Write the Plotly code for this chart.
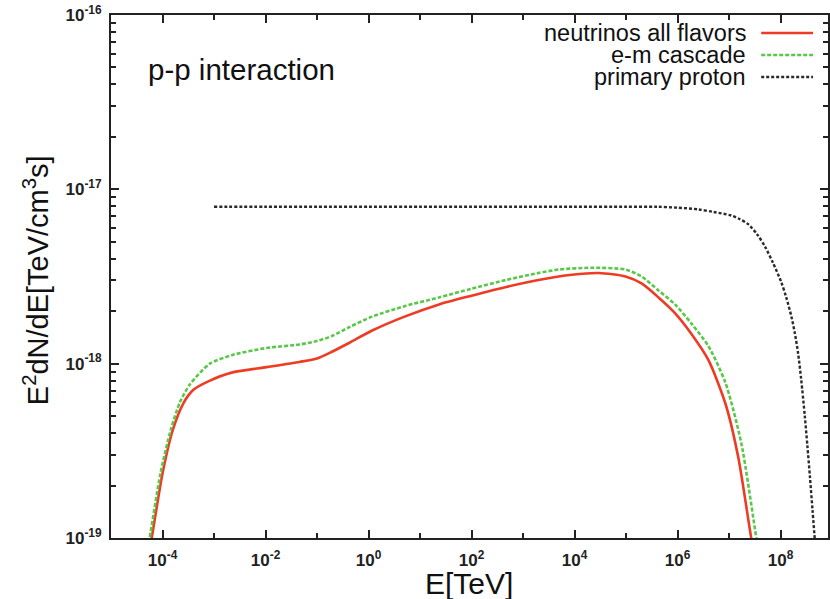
import plotly.graph_objects as go

# ---- data: log10(E / TeV) and log10(E^2 dN/dE / (TeV cm^-3 s^-1)) ----
nu_logE = [-4.25, -4.21, -4.00, -3.80, -3.60, -3.40, -3.10, -2.64, -1.98, -1.34, -1.00, -0.70,
           -0.37, 0.07, 0.70, 1.37, 2.00, 2.67, 3.30, 3.95, 4.47, 4.99, 5.30, 5.63, 5.95, 6.27,
           6.60, 6.93, 7.18, 7.43, 7.47]
nu_logF = [-19.06, -19.00, -18.63, -18.38, -18.23, -18.15, -18.10, -18.05, -18.02, -17.99, -17.97, -17.93,
           -17.88, -17.81, -17.73, -17.66, -17.61, -17.56, -17.52, -17.49, -17.48, -17.50, -17.54, -17.62,
           -17.71, -17.83, -17.98, -18.23, -18.54, -19.00, -19.06]

em_logE = [-4.29, -4.25, -4.04, -3.84, -3.66, -3.47, -3.08, -2.64, -1.98, -1.34, -1.00, -0.70,
           -0.37, 0.07, 0.70, 1.37, 2.00, 2.67, 3.30, 3.69, 4.33, 4.99, 5.30, 5.63, 5.95, 6.27,
           6.60, 6.93, 7.24, 7.53, 7.57]
em_logF = [-19.06, -19.00, -18.63, -18.38, -18.22, -18.12, -18.00, -17.95, -17.91, -17.89, -17.87, -17.84,
           -17.79, -17.73, -17.67, -17.62, -17.57, -17.52, -17.48, -17.46, -17.45, -17.46, -17.50, -17.58,
           -17.66, -17.77, -17.90, -18.11, -18.46, -19.00, -19.06]

pp_logE = [-3.0, -2.0, -1.0, 0.0, 1.0, 2.0, 3.0, 4.0, 5.0, 5.6, 6.0, 6.40, 6.70, 7.04, 7.20, 7.37,
           7.55, 7.70, 7.85, 8.01, 8.11, 8.21, 8.28, 8.34, 8.40, 8.47, 8.52, 8.57, 8.62, 8.67, 8.69]
pp_logF = [-17.10, -17.10, -17.10, -17.10, -17.10, -17.10, -17.10, -17.10, -17.10, -17.10, -17.105,
           -17.115, -17.13, -17.15, -17.17, -17.20, -17.26, -17.33, -17.42, -17.53, -17.62, -17.73,
           -17.83, -17.94, -18.09, -18.30, -18.47, -18.65, -18.84, -19.03, -19.10]

legend_labels = ["neutrinos all flavors", "e-m cascade", "primary proton"]
x_major = [1e-4, 1e-2, 1e0, 1e2, 1e4, 1e6, 1e8]
x_major_text = ["10<sup>-4</sup>", "10<sup>-2</sup>", "10<sup>0</sup>", "10<sup>2</sup>",
                "10<sup>4</sup>", "10<sup>6</sup>", "10<sup>8</sup>"]
x_minor = [1e-3, 1e-1, 1e1, 1e3, 1e5, 1e7]
y_major = [1e-19, 1e-18, 1e-17, 1e-16]
y_major_text = ["10<sup>-19</sup>", "10<sup>-18</sup>", "10<sup>-17</sup>", "10<sup>-16</sup>"]
y_minor = [m * 10.0 ** e for e in (-19, -18, -17) for m in range(2, 10)]


def unlog(v):
    return [10.0 ** a for a in v]


RED = "#ee3b24"
GREEN = "#58c848"
BLACK = "#2a2a2a"
GREEN_DASH = "4px,2px"
BLACK_DASH = "3px,2px"

fig = go.Figure()
fig.add_trace(go.Scatter(x=unlog(nu_logE), y=unlog(nu_logF), mode="lines", name=legend_labels[0],
                         line=dict(color=RED, width=2.6, shape="spline", smoothing=0.7)))
fig.add_trace(go.Scatter(x=unlog(em_logE), y=unlog(em_logF), mode="lines", name=legend_labels[1],
                         line=dict(color=GREEN, width=2.6, dash=GREEN_DASH, shape="spline", smoothing=0.7)))
fig.add_trace(go.Scatter(x=unlog(pp_logE), y=unlog(pp_logF), mode="lines", name=legend_labels[2],
                         line=dict(color=BLACK, width=2.4, dash=BLACK_DASH, shape="spline", smoothing=0.8)))

L, R, T, B = 111, 830, 15, 538
W, H = 830, 599

axis_common = dict(showgrid=False, zeroline=False, showline=True, linecolor="#222",
                   linewidth=2, ticks="inside", ticklen=8, tickwidth=1.5, tickcolor="#222",
                   mirror="allticks",
                   tickfont=dict(family="Liberation Sans", size=17, color="#222", weight="bold"))

fig.update_layout(
    width=W, height=H,
    margin=dict(l=L, r=W - R, t=T, b=H - B),
    paper_bgcolor="white", plot_bgcolor="white",
    showlegend=False,
    xaxis=dict(type="log", range=[-5, -5 + (R - L) / 51.65],
               tickvals=x_major, ticktext=x_major_text, ticklabelstandoff=6,
               minor=dict(tickvals=x_minor, ticks="inside", ticklen=5, tickwidth=1.5, tickcolor="#222"),
               **axis_common),
    yaxis=dict(type="log", range=[-19, -16],
               tickvals=y_major, ticktext=y_major_text, ticklabelstandoff=4,
               minor=dict(tickvals=y_minor, ticks="inside", ticklen=5, tickwidth=1.5, tickcolor="#222"),
               **axis_common),
)


def px_x(p):
    return (p - L) / (R - L)


def px_y(p):
    return (B - p) / (B - T)


# axis titles
fig.add_annotation(x=px_x(470), y=px_y(583), xref="paper", yref="paper", yanchor="middle",
                   text="E[TeV]", showarrow=False,
                   font=dict(family="Liberation Sans", size=30, color="#111"))
fig.add_annotation(x=px_x(36), y=px_y(280), xref="paper", yref="paper", xanchor="center",
                   yanchor="middle",
                   text="E<sup>2</sup>dN/dE[TeV/cm<sup>3</sup>s]", showarrow=False, textangle=-90,
                   font=dict(family="Liberation Sans", size=29, color="#111"))

# in-plot label
fig.add_annotation(x=px_x(146), y=px_y(70), xref="paper", yref="paper", xanchor="left",
                   yanchor="middle", text="p-p interaction", showarrow=False,
                   font=dict(family="Liberation Sans", size=29.5, color="#111"))

# legend (text right-aligned, sample on the right)
rows = [33, 55, 77]
styles = [dict(color=RED, width=2.6, dash="solid"),
          dict(color=GREEN, width=2.6, dash=GREEN_DASH),
          dict(color=BLACK, width=2.4, dash=BLACK_DASH)]
for lab, yy, st in zip(legend_labels, rows, styles):
    fig.add_annotation(x=px_x(750), y=px_y(yy), xref="paper", yref="paper", xanchor="right",
                       yanchor="middle", text=lab, showarrow=False,
                       font=dict(family="Liberation Sans", size=23.5, color="#111"))
    fig.add_shape(type="line", xref="paper", yref="paper",
                  x0=px_x(763), x1=px_x(815), y0=px_y(yy), y1=px_y(yy), line=st)

fig.write_html("out.html")
